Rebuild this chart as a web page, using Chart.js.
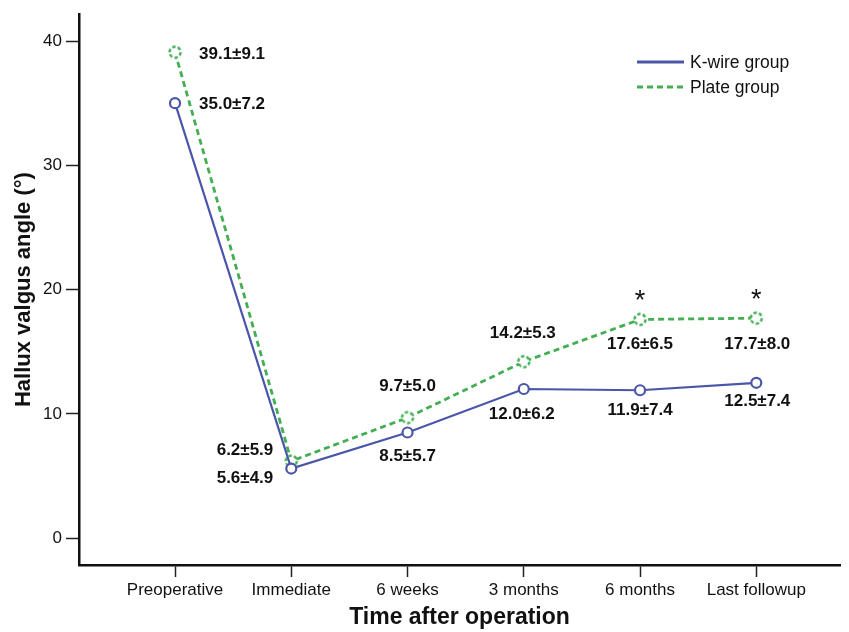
<!DOCTYPE html>
<html>
<head>
<meta charset="utf-8">
<script src="https://cdn.jsdelivr.net/npm/chart.js@4.4.0/dist/chart.umd.min.js"></script>
<style>
  html, body { margin: 0; padding: 0; background: #fff; }
  #wrap { width: 849px; height: 632px; }
</style>
</head>
<body>
<div id="wrap"><canvas id="c" width="849" height="632"></canvas></div>
<script>
// Hallux valgus angle (degrees), mean and SD at each follow-up time point
const timepoints = ['Preoperative', 'Immediate', '6 weeks', '3 months', '6 months', 'Last followup'];
const kwireMean = [35.0, 5.6, 8.5, 12.0, 11.9, 12.5];
const kwireSD   = [7.2, 4.9, 5.7, 6.2, 7.4, 7.4];
const plateMean = [39.1, 6.2, 9.7, 14.2, 17.6, 17.7];
const plateSD   = [9.1, 5.9, 5.0, 5.3, 6.5, 8.0];
const significant = [false, false, false, false, true, true];
const yTickValues = [0, 10, 20, 30, 40];

const BLUE = '#4a56a8';
const GREEN = '#43ae52';
const FONT = '"Liberation Sans", Arial, sans-serif';

// open dashed circle used as the marker of the plate group
function dashedCircle(color) {
  const c = document.createElement('canvas');
  c.width = 18; c.height = 18;
  const g = c.getContext('2d');
  g.fillStyle = '#fff';
  g.beginPath(); g.arc(9, 9, 5.5, 0, Math.PI * 2); g.fill();
  g.strokeStyle = color;
  g.lineWidth = 2.4;
  g.setLineDash([3.4, 2.2]);
  g.beginPath(); g.arc(9, 9, 5.5, 0, Math.PI * 2); g.stroke();
  return c;
}

const toPoints = arr => arr.map((v, i) => ({ x: i, y: v }));

// text placement of each value label: [dx, dy, align] relative to its point
const labelPlacement = [
  [[24, 1, 'left'], [-18, 10, 'right'], [0, 24, 'center'], [-2, 25, 'center'], [0, 20, 'center'], [1, 19, 'center']],
  [[24, 2, 'left'], [-18, -11, 'right'], [0, -31, 'center'], [-1, -28, 'center'], [0, 25, 'center'], [1, 26, 'center']]
];
const sdSets = [kwireSD, plateSD];

const valueLabels = {
  id: 'valueLabels',
  afterDatasetsDraw(chart) {
    const ctx = chart.ctx;
    ctx.save();
    ctx.fillStyle = '#111';
    chart.data.datasets.forEach((ds, di) => {
      const meta = chart.getDatasetMeta(di);
      meta.data.forEach((pt, j) => {
        const [dx, dy, align] = labelPlacement[di][j];
        ctx.font = 'bold 17px ' + FONT;
        ctx.textAlign = align;
        ctx.textBaseline = 'middle';
        const txt = ds.data[j].y.toFixed(1) + '\u00b1' + sdSets[di][j].toFixed(1);
        ctx.fillText(txt, pt.x + dx, pt.y + dy);
        if (di === 1 && significant[j]) {
          ctx.font = '27px ' + FONT;
          ctx.textAlign = 'center';
          ctx.textBaseline = 'alphabetic';
          ctx.fillText('*', pt.x, pt.y - 10);
        }
      });
    });
    ctx.restore();
  }
};

// legend drawn inside the plot area, upper right
const insideLegend = {
  id: 'insideLegend',
  afterDraw(chart) {
    const ctx = chart.ctx;
    ctx.save();
    const x0 = 637, x1 = 684, rows = [62, 87];
    chart.data.datasets.forEach((ds, i) => {
      const y = rows[i];
      ctx.strokeStyle = ds.borderColor;
      ctx.lineWidth = 3;
      ctx.setLineDash(ds.borderDash || []);
      ctx.beginPath(); ctx.moveTo(x0, y); ctx.lineTo(x1, y); ctx.stroke();
      ctx.setLineDash([]);
      ctx.fillStyle = '#111';
      ctx.font = '17.5px ' + FONT;
      ctx.textAlign = 'left';
      ctx.textBaseline = 'middle';
      ctx.fillText(ds.label, x1 + 6, y + 1);
    });
    ctx.restore();
  }
};

new Chart(document.getElementById('c'), {
  type: 'line',
  data: {
    datasets: [
      {
        label: 'K-wire group',
        data: toPoints(kwireMean),
        borderColor: BLUE,
        borderWidth: 2.2,
        pointRadius: 5,
        pointBorderWidth: 2.2,
        pointBackgroundColor: '#fff',
        pointBorderColor: BLUE,
        tension: 0
      },
      {
        label: 'Plate group',
        data: toPoints(plateMean),
        borderColor: GREEN,
        borderWidth: 2.8,
        borderDash: [6, 4],
        pointStyle: dashedCircle(GREEN),
        pointRadius: 6,
        tension: 0
      }
    ]
  },
  options: {
    responsive: false,
    animation: false,
    devicePixelRatio: 1,
    layout: { padding: { top: 12, right: 9, left: 0, bottom: 0 } },
    plugins: { legend: { display: false }, tooltip: { enabled: false } },
    scales: {
      x: {
        type: 'linear',
        min: -0.826,
        max: 5.72,
        afterBuildTicks: s => { s.ticks = timepoints.map((_, i) => ({ value: i })); },
        afterFit: s => { s.height = 67; },
        ticks: {
          callback: v => timepoints[v],
          color: '#111',
          font: { family: FONT, size: 17 },
          padding: 3,
          maxRotation: 0,
          autoSkip: false
        },
        grid: { drawOnChartArea: false, tickLength: 12, tickWidth: 1.5, tickColor: '#222' },
        border: { color: '#111', width: 2.5 },
        title: {
          display: true,
          text: 'Time after operation',
          color: '#111',
          font: { family: FONT, size: 23, weight: 'bold' },
          padding: { top: 0, bottom: 1 }
        }
      },
      y: {
        min: -2.16,
        max: 42.16,
        afterBuildTicks: s => { s.ticks = yTickValues.map(v => ({ value: v })); },
        afterFit: s => { s.width = 79; },
        ticks: {
          color: '#111',
          font: { family: FONT, size: 17 },
          padding: 4
        },
        grid: { drawOnChartArea: false, tickLength: 13, tickWidth: 1.5, tickColor: '#222' },
        border: { color: '#111', width: 2.5 },
        title: {
          display: true,
          text: 'Hallux valgus angle (\u00b0)',
          color: '#111',
          font: { family: FONT, size: 22, weight: 'bold' },
          padding: { top: 11, bottom: 0 }
        }
      }
    }
  },
  plugins: [valueLabels, insideLegend]
});
</script>
</body>
</html>
